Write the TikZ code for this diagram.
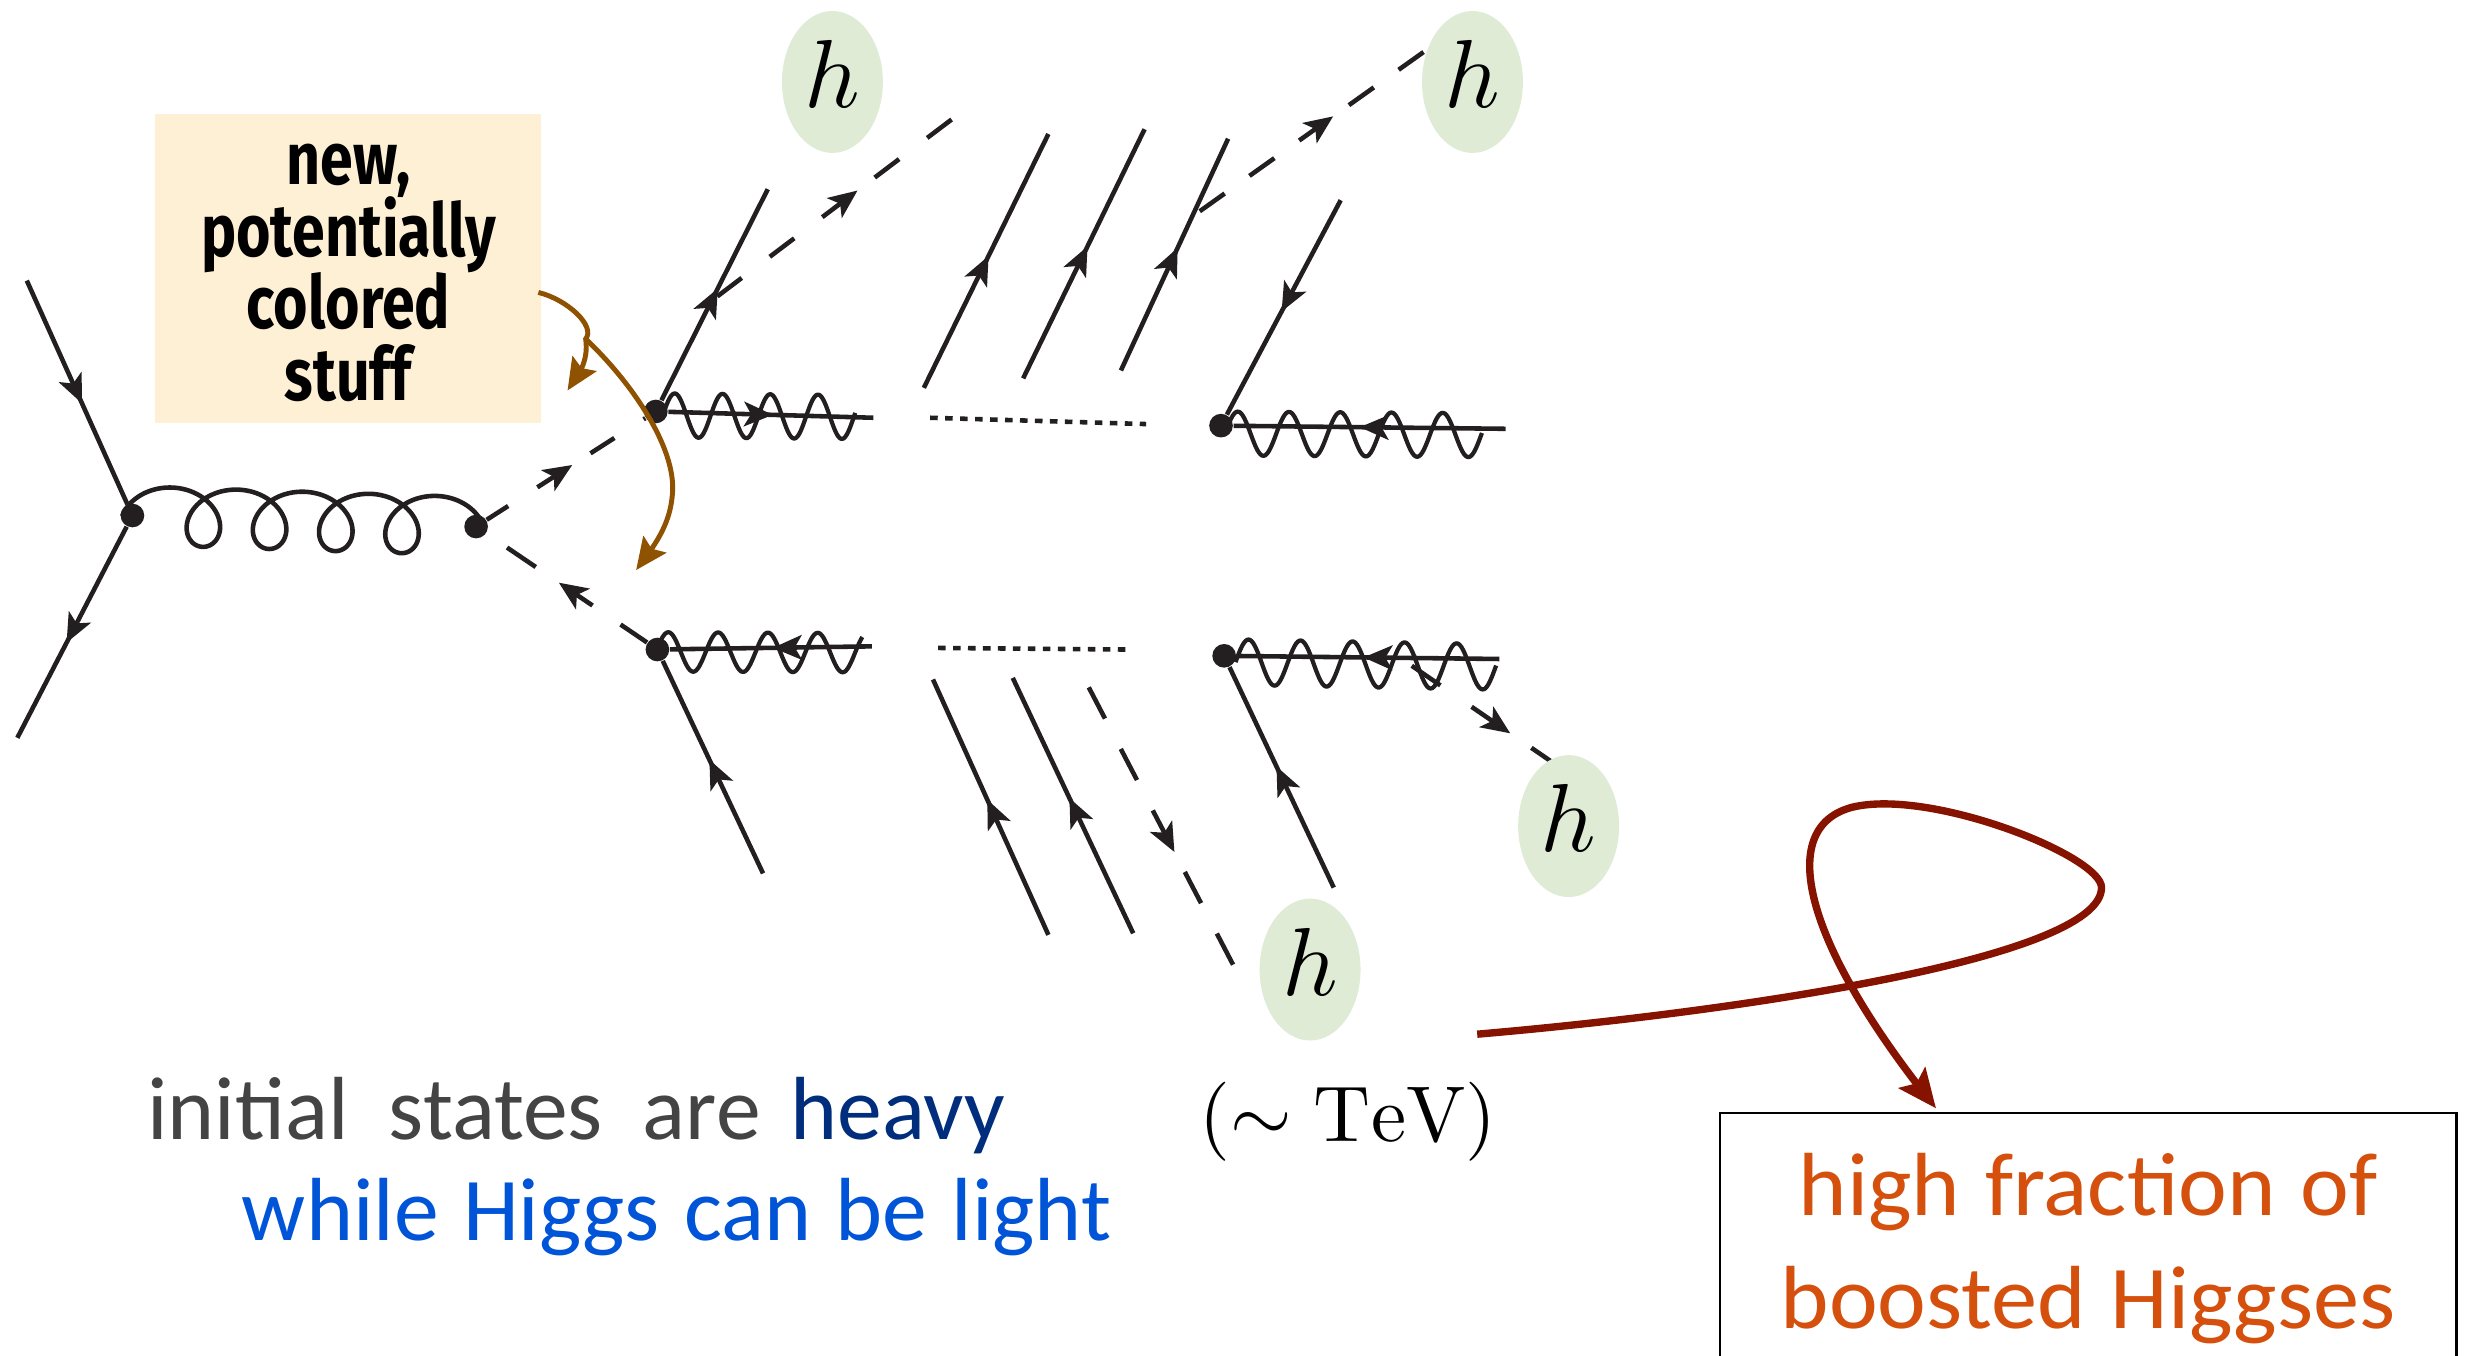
\documentclass[tikz,border=0pt]{standalone}
\usepackage{fontspec}
\usetikzlibrary{arrows.meta,decorations.markings,bending,shapes.geometric}
\newfontfamily\handfont[FakeStretch=1.0,WordSpace=1.2]{Carlito}
\newfontfamily\boxfont[FakeStretch=1.03,WordSpace=1.2]{Carlito}
\newfontfamily\blockfont[FakeStretch=0.80]{Fira Sans}
\definecolor{inkc}{HTML}{231F20}
\definecolor{creamc}{HTML}{FEF0D4}
\definecolor{leafc}{HTML}{DFEBD5}
\definecolor{brownc}{HTML}{8E5200}
\definecolor{maroonc}{HTML}{861200}
\definecolor{orangec}{HTML}{D4500C}
\definecolor{grayc}{HTML}{444444}
\definecolor{navyc}{HTML}{002D7C}
\definecolor{bluec}{HTML}{0054D8}
\newdimen\uu \uu=0.015765cm
\tikzset{
  ln/.style={draw=inkc,line width=1.3pt},
  vtx/.style={circle,fill=inkc,inner sep=0pt,minimum size=15\uu},
  higgs/.style={ellipse,fill=leafc,inner sep=0pt,minimum width=64\uu,minimum height=90\uu,text=black,text depth=4.4pt},
  fa/.style={postaction={decorate,decoration={markings,mark=at position #1 with {\arrow{Stealth[length=8.2pt,width=7pt,inset=2pt]}}}}},
  dashln/.style n args={3}{ln,dash pattern=on #1\uu off #2\uu,dash phase=#3\uu},
  wavy/.style={draw=inkc,line width=1.2pt,line join=round},
  dotted line/.style={draw=inkc,line width=1.3pt,dash pattern=on 4.8\uu off 4.7\uu},
  brownarrow/.style={draw=brownc,line width=1.4pt,-{Stealth[length=9pt,width=8pt,inset=1.5pt,flex]}},
  redarrow/.style={draw=maroonc,line width=2.1pt,-{Stealth[length=11pt,width=9.5pt,inset=2pt,flex]}},
  handtext/.style={font=\handfont\fontsize{25.5}{30}\selectfont,inner sep=0pt},
}
% sine wiggle: x0, x1, y0, y1, period, amplitude
\newcommand\wiggleline[6]{\draw[wavy] plot[domain=#1:#2,samples=160,smooth] (\x,{#3+(\x-#1)/(#2-#1)*(#4-#3)-#6*sin((\x-#1)/#5*360)});}
\begin{document}
\begin{tikzpicture}[x=0.015765cm,y=-0.015765cm]
\useasboundingbox (0,0) rectangle (1568,860);
\clip (0,0) rectangle (1568,860);
\fill[white] (0,0) rectangle (1568,860);

% label box
\node (stuffbox) [fill=creamc,anchor=north west,minimum width=245\uu,minimum height=196\uu,inner sep=0pt] at (98,72) {};
\node (stufftext) [anchor=base,font={\blockfont\bfseries\fontsize{21}{20.5}\selectfont\lineskiplimit=-10pt},align=center,inner sep=0pt,text=black] at (221,254) {new,\\potentially\\colored\\stuff};

% vertices
\node (v1) [vtx] at (84,327) {};
\node (v2) [vtx] at (302,334) {};
\node (A) [vtx] at (416,261) {};
\node (C) [vtx] at (417,412) {};
\node (B) [vtx] at (774.5,270) {};
\node (D) [vtx] at (776.5,416) {};

% free ends
\coordinate (q1) at (17,178);
\coordinate (q2) at (11,468);
\coordinate (at) at (487,120);
\coordinate (cb) at (484,554);
\coordinate (p1b) at (586,246);  \coordinate (p1t) at (665,85);
\coordinate (p2b) at (649,240);  \coordinate (p2t) at (726,82);
\coordinate (p3b) at (711,235);  \coordinate (p3t) at (779,88);
\coordinate (bt) at (850.4,127);
\coordinate (r1b) at (665,593);  \coordinate (r1t) at (591.8,431);
\coordinate (r2b) at (718.8,592);\coordinate (r2t) at (642.4,430);
\coordinate (db) at (846,563);
\coordinate (ae) at (554,265);
\coordinate (ce) at (553,410);
\coordinate (be) at (955,272);
\coordinate (de) at (951,418);

% fermions
\draw[ln,fa=0.55] (q1) -- (v1);
\draw[ln,fa=0.55] (v1) -- (q2);
\draw[ln,fa=0.53] (A) -- (at);
\draw[ln,fa=0.535] (cb) -- (C);
\draw[ln,fa=0.52] (p1b) -- (p1t);
\draw[ln,fa=0.53] (p2b) -- (p2t);
\draw[ln,fa=0.53] (p3b) -- (p3t);
\draw[ln,fa=0.52] (bt) -- (B);
\draw[ln,fa=0.53] (r1b) -- (r1t);
\draw[ln,fa=0.53] (r2b) -- (r2t);
\draw[ln,fa=0.55] (db) -- (D);
\draw[ln,fa=0.51] (A) -- (ae);
\draw[ln,fa=0.49] (ce) -- (C);
\draw[ln,fa=0.536] (be) -- (B);
\draw[ln,fa=0.517] (de) -- (D);

% gluon
\draw[ln] plot[domain=-90:1530,samples=420,smooth] ({108+\x/360*42+20*sin(\x)},{327.4+(\x+90)/1620*6-18.5*cos(\x)});

% wiggles
\wiggleline{420.4}{542.5}{263.5}{264.5}{30.3}{14}
\wiggleline{416}{547}{413.5}{414}{31.6}{12.5}
\wiggleline{777}{940}{275}{276}{32.5}{14}
\wiggleline{783.7}{949}{420}{423}{33}{14.5}

% dotted
\coordinate (t1a) at (590,265); \coordinate (t1b) at (727,269);
\coordinate (t2a) at (595,411); \coordinate (t2b) at (714,412);
\draw[dotted line] (t1a) -- (t1b);
\draw[dotted line] (t2a) -- (t2b);

% higgs blobs and dashed lines
\coordinate (s1a) at (455,188);   \coordinate (s1b) at (606,74);
\coordinate (s2a) at (761,134);   \coordinate (s2b) at (903,33);
\coordinate (s3a) at (895.5,422.3); \coordinate (s3b) at (983.5,482.7);
\coordinate (s4a) at (690.6,436); \coordinate (s4b) at (782.7,613);
\draw[dashln={18}{22}{1.8},fa=0.54] (v2) -- (A);
\draw[dashln={22}{21.5}{1.7},fa=0.55] (C) -- (v2);
\draw[dashln={19.4}{22.3}{0},fa=0.59] (s1a) -- (s1b);
\draw[dashln={19.4}{19.3}{0},fa=0.596] (s2a) -- (s2b);
\draw[dashln={22}{24}{0},fa=0.71] (s3a) -- (s3b);
\draw[dashln={22.3}{21.7}{0},fa=0.591] (s4a) -- (s4b);

\node (h1) [higgs] at (528,52) {\scalebox{2.75}{$h$}};
\node (h2) [higgs] at (934,52) {\scalebox{2.75}{$h$}};
\node (h3) [higgs] at (995,524) {\scalebox{2.75}{$h$}};
\node (h4) [higgs] at (831,615) {\scalebox{2.75}{$h$}};

% brown arrows
\coordinate (b0) at (341.5,185.5);
\coordinate (b1) at (371.5,215);
\coordinate (b2) at (360,247.7);
\coordinate (b3) at (403.5,361.6);
\draw[brownarrow] (b0) .. controls (360,190) and (378,207) .. (b1) .. controls (373,226) and (370,235) .. (b2);
\draw[brownarrow] (b1) .. controls (398,240) and (427,280) .. (426.7,310) .. controls (426,332) and (416,345) .. (b3);

% text
\node (t1) [handtext,anchor=base west,text=grayc] at (93,722.5) {initial\hspace{4.5pt} states\hspace{4.5pt} are};
\node (t1c) [handtext,anchor=base west,text=navyc] at (501,722.5) {heavy};
\node (t2) [handtext,anchor=base west,text=bluec] at (153,787) {while Higgs can be light};
\node (tev) [anchor=base,inner sep=0pt,text=black] at (855,724) {\scalebox{2.25}{$(\sim\mathrm{TeV})$}};

% result box
\node (res) [draw=black,line width=0.8pt,fill=white,minimum width=467\uu,minimum height=172\uu,align=center,inner sep=0pt,text=orangec,font=\boxfont\fontsize{25.5}{32}\selectfont] at (1324.5,792) {high fraction of\\boosted Higgses};

\coordinate (r0) at (937,656);
\coordinate (rt) at (1228,703);
\draw[redarrow] (r0) .. controls (1100,642) and (1333,608) .. (1333,563) .. controls (1333,543) and (1225,500) .. (1175,512) .. controls (1125,525) and (1145,600) .. (rt);
\end{tikzpicture}
\end{document}
